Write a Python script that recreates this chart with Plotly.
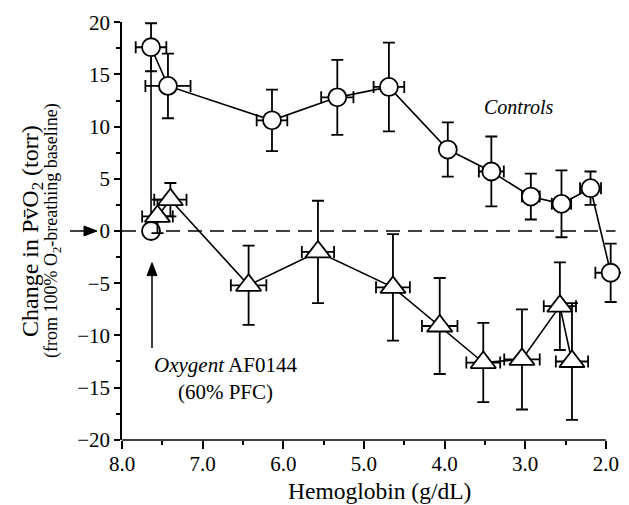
import plotly.graph_objects as go

# ---- data ----
hb_ctrl = [7.64, 7.64, 7.43, 6.14, 5.33, 4.69, 3.96, 3.42, 2.93, 2.55, 2.19, 1.94]
po2_ctrl = [0.0, 17.6, 13.9, 10.6, 12.8, 13.8, 7.8, 5.7, 3.3, 2.6, 4.1, -4.0]
ctrl_yerr = [0.0, 2.3, 3.1, 2.95, 3.6, 4.25, 2.6, 3.35, 2.2, 3.2, 1.6, 2.8]
ctrl_xerr = [0.0, 0.19, 0.28, 0.19, 0.2, 0.19, 0.0, 0.155, 0.11, 0.12, 0.13, 0.19]

hb_oxy = [7.56, 7.40, 6.43, 5.57, 4.64, 4.06, 3.52, 3.04, 2.57, 2.42]
po2_oxy = [1.4, 3.0, -5.2, -2.0, -5.4, -9.1, -12.6, -12.3, -7.2, -12.5]
oxy_yerr = [1.6, 1.6, 3.8, 4.9, 5.1, 4.6, 3.8, 4.8, 4.2, 5.6]
oxy_xerr = [0.19, 0.2, 0.22, 0.2, 0.21, 0.22, 0.21, 0.22, 0.2, 0.2]

x_ticks = [8, 7, 6, 5, 4, 3, 2]
x_ticktext = ["8.0", "7.0", "6.0", "5.0", "4.0", "3.0", "2.0"]
y_ticks = [-20, -15, -10, -5, 0, 5, 10, 15, 20]
y_ticktext = ["\u221220", "\u221215", "\u221210", "\u22125", "0", "5", "10", "15", "20"]

FONT = "Liberation Serif"
X0, X1 = 8.0, 1.75
PW, PH = 504, 422   # plot area size in px
PL, PB = 122, 440   # plot-area left / bottom in screenshot px

def px_x(p):  # screenshot x pixel -> paper
    return (p - PL) / PW

def px_y(p):  # screenshot y pixel -> paper
    return (PB - p) / PH

fig = go.Figure()

eb = dict(type="data", color="black", thickness=1.8, width=6)

fig.add_trace(go.Scatter(
    x=hb_ctrl, y=po2_ctrl, mode="lines+markers", name="Controls",
    line=dict(color="black", width=1.6),
    marker=dict(symbol="circle", size=18, color="white", line=dict(color="black", width=1.8)),
    error_y=dict(array=ctrl_yerr, **eb),
    error_x=dict(array=ctrl_xerr, **eb),
    showlegend=False, cliponaxis=False,
))

fig.add_trace(go.Scatter(
    x=hb_oxy, y=po2_oxy, mode="lines+markers", name="Oxygent AF0144",
    line=dict(color="black", width=1.6),
    marker=dict(symbol="triangle-up", size=22, color="white", line=dict(color="black", width=1.8)),
    error_y=dict(array=oxy_yerr, **eb),
    error_x=dict(array=oxy_xerr, **eb),
    showlegend=False, cliponaxis=False,
))

span = X0 - X1
# x axis line only from 8.0 to 2.0
fig.add_shape(type="line", xref="paper", yref="paper",
              x0=0, x1=(X0 - 2.0) / span, y0=0, y1=0,
              line=dict(color="black", width=1.5))
# dashed baseline at zero
fig.add_shape(type="line", xref="paper", yref="y",
              x0=0, x1=(X0 - 1.88) / span, y0=0, y1=0,
              line=dict(color="black", width=1.6, dash="14px,8px"), layer="below")

# vertical arrow (shaft + head)
fig.add_shape(type="line", xref="paper", yref="paper",
              x0=px_x(152), x1=px_x(152), y0=px_y(347), y1=px_y(270),
              line=dict(color="black", width=1.5))
fig.add_shape(type="path", xref="paper", yref="paper",
              path="M {a},{b} L {c},{d} L {e},{d} Z".format(
                  a=px_x(152), b=px_y(261), c=px_x(147), d=px_y(274), e=px_x(157)),
              fillcolor="black", line=dict(color="black", width=1))
# left arrow pointing at zero
fig.add_shape(type="line", xref="paper", yref="paper",
              x0=px_x(70), x1=px_x(86), y0=px_y(229), y1=px_y(229),
              line=dict(color="black", width=1.5))
fig.add_shape(type="path", xref="paper", yref="paper",
              path="M {a},{b} L {c},{d} L {c},{e} Z".format(
                  a=px_x(97), b=px_y(229), c=px_x(84), d=px_y(224), e=px_y(234)),
              fillcolor="black", line=dict(color="black", width=1))

annotations = [
    dict(text="<i>Controls</i>", x=3.077, y=11.85, xref="x", yref="y",
         showarrow=False, font=dict(family=FONT, size=20, color="black")),
    dict(text="<i>Oxygent</i> AF0144<br>(60% PFC)", x=6.72, y=-14.1, xref="x", yref="y",
         showarrow=False, font=dict(family=FONT, size=21, color="black")),
    dict(text="Change in Pv\u0304O<sub>2</sub> (torr)", x=px_x(32), y=0.5,
         xref="paper", yref="paper", textangle=-90, showarrow=False,
         xanchor="center", yanchor="middle",
         font=dict(family=FONT, size=24, color="black")),
    dict(text="(from 100% O<sub>2</sub>-breathing baseline)", x=px_x(52), y=0.5,
         xref="paper", yref="paper", textangle=-90, showarrow=False,
         xanchor="center", yanchor="middle",
         font=dict(family=FONT, size=18, color="black")),
    dict(text="Hemoglobin (g/dL)", x=px_x(379.5), y=px_y(491),
         xref="paper", yref="paper", showarrow=False, xanchor="center", yanchor="middle",
         font=dict(family=FONT, size=23.5, color="black")),
]

# the page body adds an 8px offset, so the figure is 8px smaller than the window
fig.update_layout(
    width=621, height=497,
    margin=dict(l=PL - 8, r=621 - (PL - 8) - PW, t=10, b=497 - 10 - PH),
    paper_bgcolor="white", plot_bgcolor="white",
    font=dict(family=FONT, size=21, color="black"),
    annotations=annotations,
    xaxis=dict(range=[X0, X1], showline=False, showgrid=False, zeroline=False,
               tickmode="array", tickvals=x_ticks, ticktext=x_ticktext,
               ticks="outside", ticklen=8, tickwidth=1.5, tickcolor="black",
               ticklabelstandoff=-3, ticklabeloverflow="allow",
               tickfont=dict(family=FONT, size=21),
               minor=dict(tickmode="array", tickvals=[7.5, 6.5, 5.5, 4.5, 3.5, 2.5],
                          ticks="outside", ticklen=4, tickwidth=1.5, tickcolor="black")),
    yaxis=dict(range=[-20.02, 20.02], showline=True, linecolor="black", linewidth=1.5,
               showgrid=False, zeroline=False,
               tickmode="array", tickvals=y_ticks, ticktext=y_ticktext,
               ticks="outside", ticklen=6, tickwidth=1.5, tickcolor="black",
               ticklabeloverflow="allow",
               tickfont=dict(family=FONT, size=21),
               minor=dict(tickmode="array",
                          tickvals=[-17.5, -12.5, -7.5, -2.5, 2.5, 7.5, 12.5, 17.5],
                          ticks="outside", ticklen=4, tickwidth=1.5, tickcolor="black")),
)

fig.write_html("out.html")
